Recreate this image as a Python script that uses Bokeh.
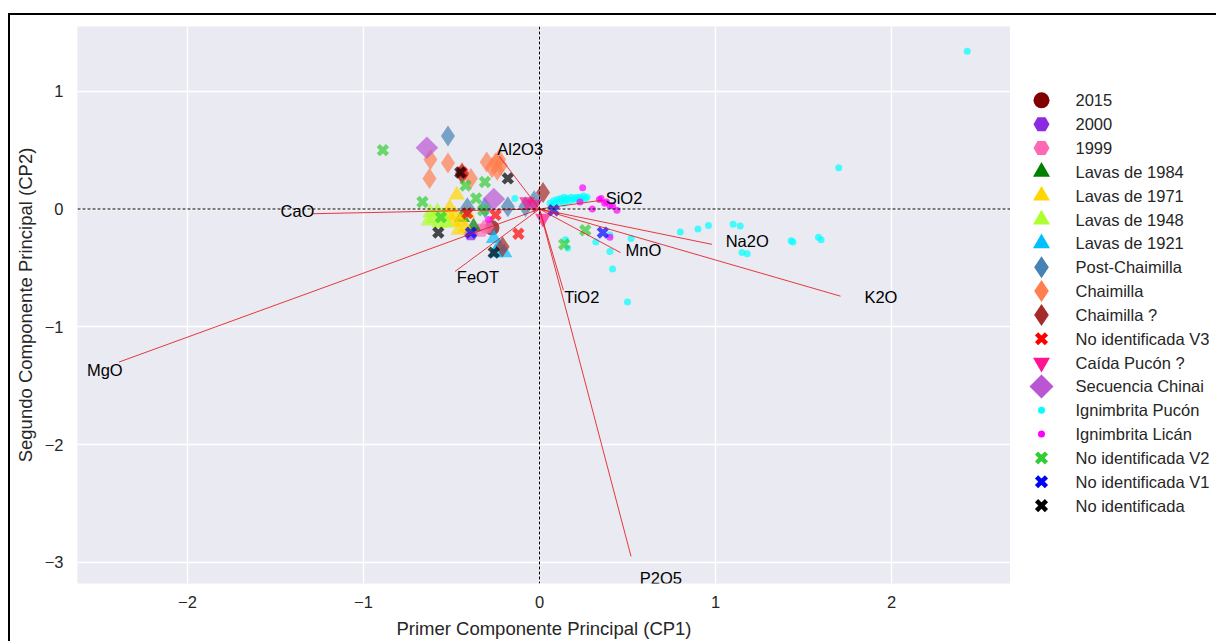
import math
from bokeh.plotting import figure
from bokeh.layouts import row
from bokeh.models import Span, FixedTicker, ColumnDataSource, Range1d, LabelSet
from bokeh.embed import file_html
from bokeh.resources import INLINE
from bokeh.core.properties import value

FONT = "Liberation Sans"

# ---- PCA scores by group (CP1, CP2) ----
x_2015 = [-0.27]
y_2015 = [-0.16]

x_2000 = [-0.39]
y_2000 = [-0.21]

x_1999 = [-0.33, -0.30]
y_1999 = [-0.18, -0.15]

x_l1984 = [-0.375, -0.44]
y_l1984 = [-0.15, -0.07]

x_l1971 = [-0.47, -0.51, -0.48, -0.45, -0.42, -0.49, -0.46, -0.52, -0.41]
y_l1971 = [0.12, 0.01, -0.05, -0.11, -0.16, -0.11, -0.18, -0.05, -0.04]

x_l1948 = [-0.62, -0.60, -0.57, -0.55, -0.53, -0.58, -0.63]
y_l1948 = [-0.03, -0.08, -0.12, -0.06, -0.12, -0.02, -0.10]

x_l1921 = [-0.26, -0.23, -0.25, -0.20]
y_l1921 = [-0.25, -0.32, -0.37, -0.37]

x_post = [-0.52, -0.18, -0.08, -0.41, -0.31, -0.03]
y_post = [0.62, 0.02, 0.02, 0.01, 0.01, 0.07]

x_chai = [-0.62, -0.52, -0.625, -0.44, -0.39, -0.30, -0.27, -0.25, -0.23, -0.24, -0.22]
y_chai = [0.42, 0.39, 0.26, 0.31, 0.26, 0.40, 0.35, 0.39, 0.42, 0.33, 0.37]

x_chai_q = [0.02, -0.21, -0.44]
y_chai_q = [0.14, -0.32, 0.30]

x_v3 = [-0.44, -0.25, -0.12, -0.41]
y_v3 = [0.31, -0.05, -0.21, -0.035]

x_caida = [-0.07, -0.03, 0.02]
y_caida = [0.06, 0.04, -0.08]

x_chinai = [-0.64, -0.26]
y_chinai = [0.52, 0.085]

x_ign_pucon = [0.06, 0.08, 0.10, 0.11, 0.12, 0.13, 0.14, 0.15, 0.16, 0.17, 0.18, 0.19,
               0.20, 0.21, 0.22, 0.23, 0.24, 0.25, 0.26, 0.27, 0.09, 0.14, 0.07,
               -0.14, 0.148, 0.16, 0.32, 0.40, 0.40, 0.415, 0.50, 0.52,
               0.80, 0.90, 0.96, 1.10, 1.14, 1.15, 1.18, 1.43, 1.44, 1.585, 1.60,
               1.70, 2.43]
y_ign_pucon = [0.05, 0.07, 0.08, 0.06, 0.09, 0.07, 0.10, 0.08, 0.09, 0.07, 0.10, 0.08,
               0.09, 0.10, 0.08, 0.10, 0.09, 0.11, 0.09, 0.10, 0.04, 0.05, 0.03,
               0.09, -0.26, -0.33, -0.28, -0.22, -0.36, -0.51, -0.79, -0.25,
               -0.195, -0.17, -0.14, -0.13, -0.145, -0.37, -0.38, -0.27, -0.28, -0.24, -0.26,
               0.35, 1.34]

x_ign_lican = [0.245, 0.23, 0.34, 0.35, 0.37, 0.38, 0.40, 0.415, 0.44, 0.30, 0.40, -0.29]
y_ign_lican = [0.18, 0.06, 0.08, 0.09, 0.05, 0.06, 0.03, 0.025, -0.01, 0.0, -0.24, -0.09]

x_v2 = [-0.89, -0.42, -0.31, -0.36, -0.665, -0.56, -0.32, 0.14, 0.26]
y_v2 = [0.50, 0.20, 0.23, 0.09, 0.06, -0.07, -0.01, -0.30, -0.18]

x_v1 = [-0.39, 0.08, 0.36]
y_v1 = [-0.20, -0.01, -0.20]

x_noid = [-0.45, -0.18, -0.575, -0.26]
y_noid = [0.31, 0.26, -0.20, -0.37]

# ---- loadings (variable vectors) ----
load_names = ["Al2O3", "SiO2", "CaO", "MgO", "FeOT", "TiO2", "P2O5", "MnO", "Na2O", "K2O"]
load_x = [-0.23, 0.36, -1.29, -2.39, -0.48, 0.136, 0.52, 0.46, 0.98, 1.71]
load_y = [0.45, 0.076, -0.04, -1.30, -0.53, -0.69, -2.95, -0.37, -0.30, -0.74]
label_x = [-0.11, 0.48, -1.375, -2.47, -0.35, 0.24, 0.69, 0.59, 1.18, 1.94]
label_y = [0.51, 0.09, -0.02, -1.37, -0.58, -0.75, -3.13, -0.35, -0.27, -0.75]

x_ticks = [-2, -1, 0, 1, 2]
y_ticks = [-3, -2, -1, 0, 1]

# name, x, y, marker, colour, size, angle
groups = [
    ("2015", x_2015, y_2015, "circle", "#800000", 15, 0),
    ("2000", x_2000, y_2000, "hex", "#8a2be2", 15, 0),
    ("1999", x_1999, y_1999, "hex", "#ff69b4", 15, 0),
    ("Lavas de 1984", x_l1984, y_l1984, "triangle", "#008000", 16, 0),
    ("Lavas de 1971", x_l1971, y_l1971, "triangle", "#ffd700", 16, 0),
    ("Lavas de 1948", x_l1948, y_l1948, "triangle", "#adff2f", 16, 0),
    ("Lavas de 1921", x_l1921, y_l1921, "triangle", "#00bfff", 16, 0),
    ("Post-Chaimilla", x_post, y_post, "diamond", "#4682b4", 21, 0),
    ("Chaimilla", x_chai, y_chai, "diamond", "#ff7f50", 21, 0),
    ("Chaimilla ?", x_chai_q, y_chai_q, "diamond", "#a52a2a", 21, 0),
    ("No identificada V3", x_v3, y_v3, "x", "#ff0000", 13, 0),
    ("Caída Pucón ?", x_caida, y_caida, "inverted_triangle", "#ff1493", 16, 0),
    ("Secuencia Chinai", x_chinai, y_chinai, "square", "#ba55d3", 16, math.pi / 4),
    ("Ignimbrita Pucón", x_ign_pucon, y_ign_pucon, "circle", "#00ffff", 7, 0),
    ("Ignimbrita Licán", x_ign_lican, y_ign_lican, "circle", "#ff00ff", 7, 0),
    ("No identificada V2", x_v2, y_v2, "x", "#32cd32", 13, 0),
    ("No identificada V1", x_v1, y_v1, "x", "#0000ff", 13, 0),
    ("No identificada", x_noid, y_noid, "x", "#000000", 13, 0),
]

# ---------------- main biplot ----------------
p = figure(
    width=1000, height=626,
    x_range=(-2.625, 2.676), y_range=(-3.18, 1.55),
    output_backend="svg", toolbar_location=None,
    min_border_left=67, min_border_top=11, min_border_bottom=57, min_border_right=0,
)
p.background_fill_color = "#eaeaf2"
p.border_fill_color = "white"
p.outline_line_color = None

p.xgrid.grid_line_color = "white"
p.ygrid.grid_line_color = "white"
p.xgrid.grid_line_width = 1.4
p.ygrid.grid_line_width = 1.4

for ax in (p.xaxis[0], p.yaxis[0]):
    ax.axis_line_color = None
    ax.major_tick_line_color = None
    ax.minor_tick_line_color = None
    ax.major_tick_out = 0
    ax.major_tick_in = 0
    ax.minor_tick_out = 0
    ax.major_label_text_font = FONT
    ax.major_label_text_font_size = "16.5px"
    ax.major_label_text_color = "#262626"
    ax.axis_label_text_font = FONT
    ax.axis_label_text_font_size = "18.5px"
    ax.axis_label_text_font_style = "normal"
    ax.axis_label_text_color = "#262626"

p.xaxis.ticker = FixedTicker(ticks=x_ticks)
p.yaxis.ticker = FixedTicker(ticks=y_ticks)
p.xaxis.major_label_overrides = {t: str(t).replace("-", "\u2212") for t in x_ticks}
p.yaxis.major_label_overrides = {t: str(t).replace("-", "\u2212") for t in y_ticks}
p.xaxis.major_label_standoff = 12
p.yaxis.major_label_standoff = 14
p.xaxis.axis_label_standoff = 7
p.yaxis.axis_label_standoff = 6
p.xaxis.axis_label = "Primer Componente Principal (CP1)"
p.yaxis.axis_label = "Segundo Componente Principal (CP2)"

# zero reference lines
p.add_layout(Span(location=0, dimension="height", line_color="black",
                  line_width=1, line_dash="3 2"))
p.add_layout(Span(location=0, dimension="width", line_color="black",
                  line_width=1, line_dash="3 2"))

for name, xs, ys, marker, color, size, angle in groups:
    src = ColumnDataSource(dict(x=xs, y=ys))
    if marker == "x":
        p.scatter("x", "y", source=src, marker=marker, size=size,
                  line_color=color, line_width=4.5, line_alpha=0.7)
    else:
        p.scatter("x", "y", source=src, marker=marker, size=size, angle=angle,
                  fill_color=color, fill_alpha=0.7, line_color=None)

# variable vectors and their names
zeros = [0.0] * len(load_x)
p.segment(x0=zeros, y0=zeros, x1=load_x, y1=load_y,
          line_color="#e31a1c", line_width=1, line_alpha=0.85)
lab_src = ColumnDataSource(dict(x=label_x, y=label_y, name=load_names))
p.add_layout(LabelSet(x="x", y="y", text="name", source=lab_src,
                      text_font=value(FONT), text_font_size=value("16.5px"),
                      text_color="black",
                      text_align="center", text_baseline="middle"))

# ---------------- legend panel ----------------
# the panel's frame lines up with the biplot's frame (page rows 26..584)
leg = figure(width=206, height=626, x_range=(0, 206), y_range=Range1d(584, 26),
             output_backend="svg", toolbar_location=None,
             x_axis_type=None, y_axis_type=None, min_border=0)
leg.grid.visible = False
leg.outline_line_color = None
leg.background_fill_color = "white"
leg.border_fill_color = "white"

row_y0, row_step = 100.0, 23.88
for i, (name, xs, ys, marker, color, size, angle) in enumerate(groups):
    yy = row_y0 + i * row_step
    lsize = size + 1 if marker != "circle" or size > 10 else size
    if marker == "x":
        leg.scatter([31], [yy], marker=marker, size=lsize,
                    line_color=color, line_width=4.5)
    elif marker == "square":
        leg.scatter([31], [yy], marker=marker, size=lsize, angle=angle,
                    fill_color=color, line_color=None)
    else:
        leg.scatter([31], [yy], marker=marker, size=lsize,
                    fill_color=color, line_color=None)
    leg.text([65], [yy], text=[name], text_font=value(FONT),
             text_font_size="16.5px", text_color="#262626",
             text_align="left", text_baseline="middle")

layout = row(p, leg)
layout.styles = {"margin-left": "8px", "margin-top": "13px",
                 "border-left": "2px solid black", "border-top": "2px solid black"}

open("out.html", "w").write(file_html(layout, INLINE))
